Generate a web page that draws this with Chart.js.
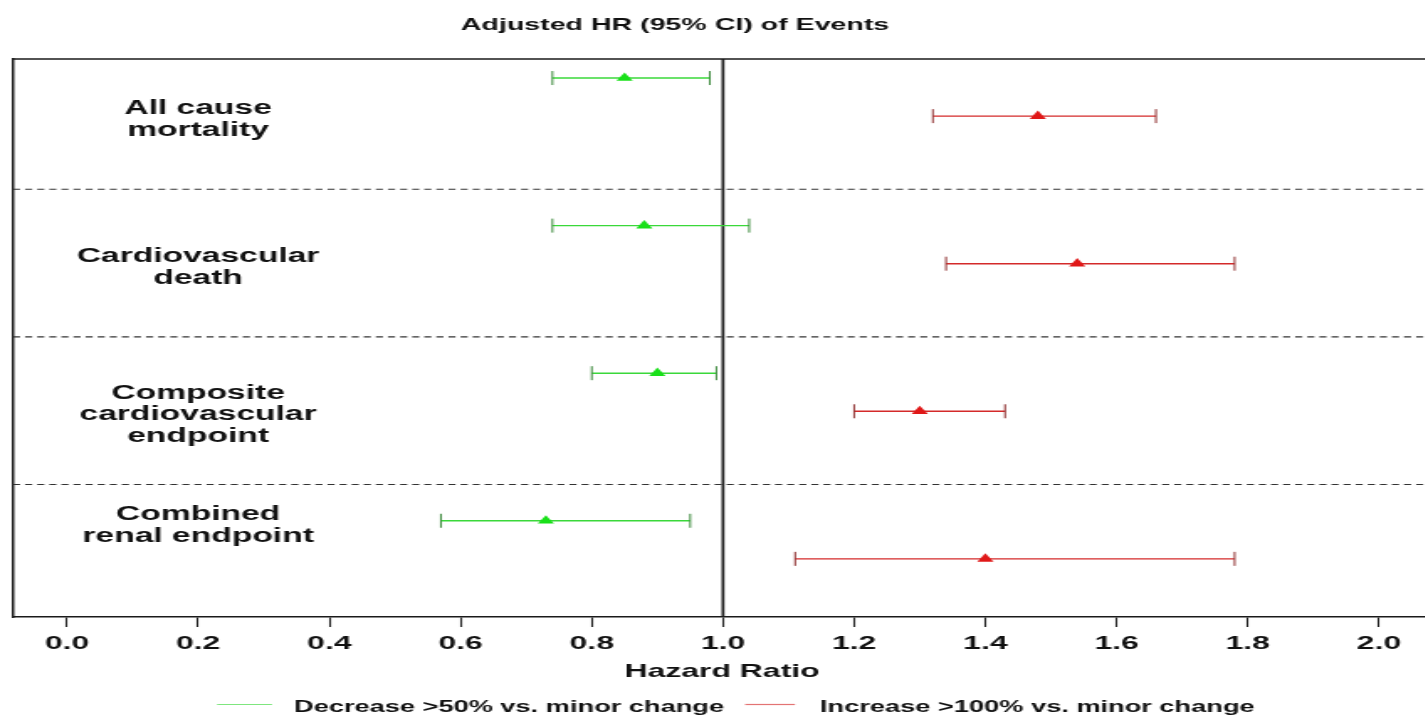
<!DOCTYPE html>
<html><head><meta charset="utf-8">
<script src="https://cdn.jsdelivr.net/npm/chart.js@4.4.1/dist/chart.umd.min.js"></script>
<style>
html,body{margin:0;padding:0;background:#fff;overflow:hidden;width:1425px;height:717px;}
#wrap{position:absolute;left:0;top:0;width:849px;height:717px;transform:scaleX(1.68);transform-origin:0 0;}
canvas{display:block;}
</style></head><body>
<div id="wrap"><canvas id="c" width="849" height="717"></canvas></div>
<script>
// ---- data ----
const categories = [["All cause","mortality"],["Cardiovascular","death"],["Composite","cardiovascular","endpoint"],["Combined","renal endpoint"]];
const seriesNames = ["Decrease >50% vs. minor change","Increase >100% vs. minor change"];
const decreaseHR = [0.85, 0.88, 0.90, 0.73];
const decreaseLo = [0.74, 0.74, 0.80, 0.57];
const decreaseHi = [0.98, 1.04, 0.99, 0.95];
const increaseHR = [1.48, 1.54, 1.30, 1.40];
const increaseLo = [1.32, 1.34, 1.20, 1.11];
const increaseHi = [1.66, 1.78, 1.43, 1.78];
const xTickValues = [0, 0.2, 0.4, 0.6, 0.8, 1.0, 1.2, 1.4, 1.6, 1.8, 2.0];
const chartTitle = "Adjusted HR (95% CI) of Events";
const xAxisTitle = "Hazard Ratio";
const referenceHR = 1.0;

// ---- layout (row positions on the hidden y scale) ----
const rowPos = [1, 2, 3, 4];
const secondOffset = 0.258;
const labelPos = [1.27, 2.27, 3.27, 4.02];
const separators = [1.754, 2.754, 3.754];

const FONT = '"Liberation Sans", Arial, Helvetica, sans-serif';
const GREEN = '#19e019', GREEN_LINE = '#3ad83a', GREEN_CAP = '#3c8a3c';
const RED = '#e01818', RED_LINE = '#d42a2a', RED_CAP = '#8e3030';

const forestPlugin = {
  id: 'forest',
  beforeDatasetsDraw(chart) {
    const {ctx, chartArea: a, scales: {x, y}} = chart;
    ctx.save();
    // top frame line
    ctx.strokeStyle = '#1a1a1a'; ctx.lineWidth = 1.5;
    ctx.beginPath(); ctx.moveTo(a.left, a.top); ctx.lineTo(a.right, a.top); ctx.stroke();
    // dashed separators
    ctx.setLineDash([4.2, 3]); ctx.lineWidth = 1.1; ctx.strokeStyle = '#333';
    separators.forEach(s => {
      const py = y.getPixelForValue(s);
      ctx.beginPath(); ctx.moveTo(a.left, py); ctx.lineTo(a.right, py); ctx.stroke();
    });
    ctx.setLineDash([]);
    // reference line at HR = 1
    const px = x.getPixelForValue(referenceHR);
    ctx.lineWidth = 1.7; ctx.strokeStyle = '#1a1a1a';
    ctx.beginPath(); ctx.moveTo(px, a.top); ctx.lineTo(px, a.bottom); ctx.stroke();
    // error bars
    const bar = (lo, hi, pos, col, capCol) => {
      const yy = y.getPixelForValue(pos), x0 = x.getPixelForValue(lo), x1 = x.getPixelForValue(hi);
      ctx.strokeStyle = col; ctx.lineWidth = 1.4;
      ctx.beginPath(); ctx.moveTo(x0, yy); ctx.lineTo(x1, yy); ctx.stroke();
      ctx.strokeStyle = capCol; ctx.lineWidth = 1.0;
      [x0, x1].forEach(cx => { ctx.beginPath(); ctx.moveTo(cx, yy - 7); ctx.lineTo(cx, yy + 7); ctx.stroke(); });
    };
    decreaseHR.forEach((v, i) => bar(decreaseLo[i], decreaseHi[i], rowPos[i], GREEN_LINE, GREEN_CAP));
    increaseHR.forEach((v, i) => bar(increaseLo[i], increaseHi[i], rowPos[i] + secondOffset, RED_LINE, RED_CAP));
    ctx.restore();
  },
  afterDraw(chart) {
    const {ctx, scales: {x, y}} = chart;
    ctx.save();
    ctx.fillStyle = '#111';
    ctx.textAlign = 'center'; ctx.textBaseline = 'alphabetic';
    // title
    ctx.font = `bold 17px ${FONT}`;
    ctx.fillText(chartTitle, 401.8, 29.5);
    // x axis title
    ctx.font = `bold 19px ${FONT}`;
    ctx.fillText(xAxisTitle, 429.8, 677);
    // category labels
    ctx.font = `bold 20px ${FONT}`;
    categories.forEach((lines, k) => {
      const c = y.getPixelForValue(labelPos[k]);
      lines.forEach((t, i) => {
        const cy = c + (i - (lines.length - 1) / 2) * 21.7;
        ctx.fillText(t, 117.9, cy + 7.2);
      });
    });
    // legend
    ctx.textAlign = 'left';
    ctx.font = `bold 16.2px ${FONT}`;
    const leg = [[129.2, 161.9, 175, GREEN_LINE], [443.5, 473.2, 488.1, RED_LINE]];
    leg.forEach((l, i) => {
      ctx.strokeStyle = l[3]; ctx.globalAlpha = 0.65; ctx.lineWidth = 1.2;
      ctx.beginPath(); ctx.moveTo(l[0], 704.5); ctx.lineTo(l[1], 704.5); ctx.stroke();
      ctx.globalAlpha = 1;
      ctx.fillText(seriesNames[i], l[2], 712);
    });
    ctx.restore();
  }
};

new Chart(document.getElementById('c'), {
  type: 'scatter',
  data: {
    datasets: [
      {label: seriesNames[0], data: decreaseHR.map((v, i) => ({x: v, y: rowPos[i]})),
       pointStyle: 'triangle', pointRadius: 5.6, backgroundColor: GREEN, borderWidth: 0},
      {label: seriesNames[1], data: increaseHR.map((v, i) => ({x: v, y: rowPos[i] + secondOffset})),
       pointStyle: 'triangle', pointRadius: 5.6, backgroundColor: RED, borderWidth: 0}
    ]
  },
  options: {
    responsive: false, animation: false, events: [],
    layout: {autoPadding: false, padding: {top: 59, left: 7.74, right: 0, bottom: 0}},
    plugins: {legend: {display: false}, tooltip: {enabled: false}, title: {display: false}},
    scales: {
      x: {
        type: 'linear', position: 'bottom', min: -0.0823, max: 2.0722,
        afterFit(s) { s.height = 100; s.paddingLeft = 0; s.paddingRight = 0; },
        afterBuildTicks(s) { s.ticks = xTickValues.map(v => ({value: v})); },
        grid: {drawOnChartArea: false, drawTicks: true, tickLength: 10, tickColor: '#222', tickWidth: 1.1},
        border: {display: true, color: '#1a1a1a', width: 1.5},
        ticks: {autoSkip: false, maxRotation: 0, padding: 5, color: '#111',
                font: {family: FONT, size: 19, weight: 'bold'},
                callback: v => Number(v).toFixed(1)}
      },
      y: {
        type: 'linear', position: 'left', reverse: true, min: 0.871, max: 4.652,
        afterFit(s) { s.width = 0; s.paddingTop = 0; s.paddingBottom = 0; },
        grid: {drawOnChartArea: false, drawTicks: false},
        border: {display: true, color: '#1a1a1a', width: 1.5},
        ticks: {display: false}
      }
    }
  },
  plugins: [forestPlugin]
});
</script>
</body></html>
